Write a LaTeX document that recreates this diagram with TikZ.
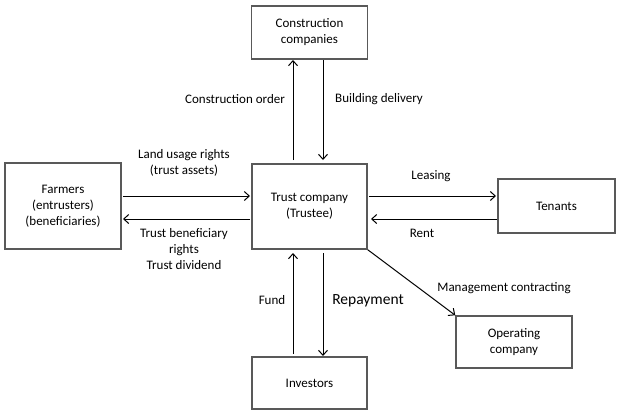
\documentclass[tikz,border=0pt]{standalone}
\usepackage{fontspec}
\setmainfont{Carlito}
\usetikzlibrary{arrows.meta}
\begin{document}
\begin{tikzpicture}[x=1pt,y=-1pt,
  box/.style={draw=black!65, line width=1.5pt, minimum width=#1, inner sep=0pt, align=center, font=\fontsize{13}{16}\selectfont},
  lab/.style={align=center, font=\fontsize{13}{16}\selectfont, inner sep=0pt},
  arr/.style={draw=black, line width=1pt, -{Straight Barb[length=5pt,width=9pt,line width=1pt]}}]
\useasboundingbox (0,0) rectangle (620,416);
\node[box=116pt, minimum height=53pt] (cc) at (309.5,32.5) {Construction\\companies};
\node[box=115pt, minimum height=85pt] (tc) at (309.5,206.5) {Trust company\\(Trustee)};
\node[box=116pt, minimum height=86pt] (fa) at (63,206) {Farmers\\(entrusters)\\(beneficiaries)};
\node[box=117pt, minimum height=54pt] (te) at (556.5,206) {Tenants};
\node[box=116pt, minimum height=52pt] (oc) at (514,342) {Operating\\company};
\node[box=115pt, minimum height=52pt] (iv) at (309.5,383) {Investors};

\coordinate (a1) at (293,160); \coordinate (a2) at (293,60);
\coordinate (b1) at (323,60);  \coordinate (b2) at (323,160);
\draw[arr] (a1) -- (a2);
\draw[arr] (b1) -- (b2);
\coordinate (c1) at (123,196); \coordinate (c2) at (250,196);
\coordinate (d1) at (250,219); \coordinate (d2) at (123,219);
\draw[arr] (c1) -- (c2);
\draw[arr] (d1) -- (d2);
\coordinate (e1) at (369,196); \coordinate (e2) at (496,196);
\coordinate (f1) at (497,219); \coordinate (f2) at (371,219);
\draw[arr] (e1) -- (e2);
\draw[arr] (f1) -- (f2);
\coordinate (g1) at (293,354); \coordinate (g2) at (293,253);
\coordinate (h1) at (323,253); \coordinate (h2) at (323,356);
\draw[arr] (g1) -- (g2);
\draw[arr] (h1) -- (h2);
\draw[arr] (tc.south east) -- (oc.north west);

\node[lab] (l1) at (235,99) {Construction order};
\node[lab] (l2) at (379,99) {Building delivery};
\node[lab] (l3) at (184,163) {Land usage rights\\(trust assets)};
\node[lab] (l4) at (184,249) {Trust beneficiary\\rights\\Trust dividend};
\node[lab] (l5) at (431,176) {Leasing};
\node[lab] (l6) at (422,233) {Rent};
\node[lab] (l7) at (504,288) {Management contracting};
\node[lab] (l8) at (272,300) {Fund};
\node[lab, font=\fontsize{15.5}{18}\selectfont] (l9) at (368,301) {Repayment};
\end{tikzpicture}
\end{document}
